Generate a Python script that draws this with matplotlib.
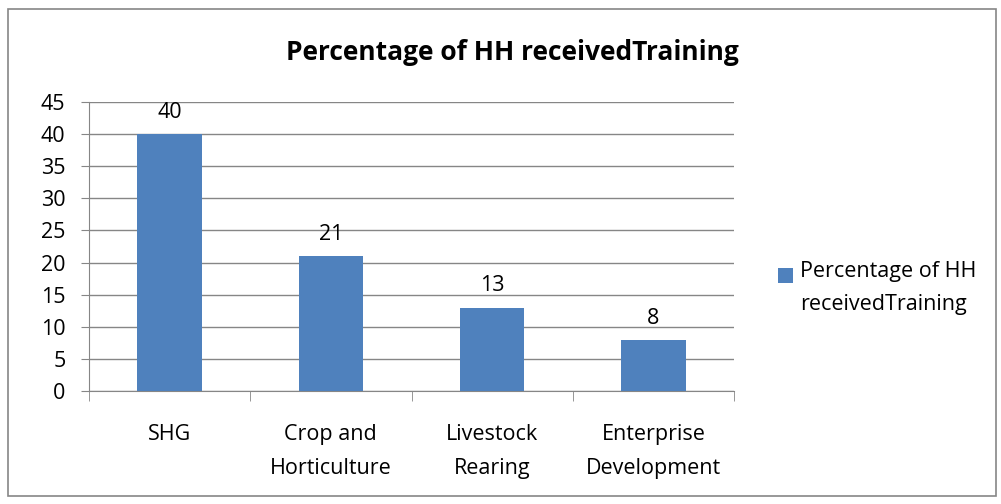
import matplotlib.pyplot as plt
from matplotlib.patches import Rectangle
from matplotlib.legend_handler import HandlerPatch

categories = ['SHG', 'Crop and\nHorticulture', 'Livestock\nRearing', 'Enterprise\nDevelopment']
values = [40, 21, 13, 8]
series_name = 'Percentage of HH\nreceivedTraining'
title = 'Percentage of HH receivedTraining'

plt.rcParams['font.family'] = ['Open Sans', 'DejaVu Sans']
fs = 15.5

fig = plt.figure(figsize=(10.01, 5.04), dpi=100)
ax = fig.add_axes([89 / 1001, 1 - 391 / 504, (734 - 89) / 1001, (391 - 102) / 504])

x = range(len(categories))
bars = ax.bar(x, values, width=0.4, color='#4F81BD', label=series_name, zorder=3)
for xi, v in zip(x, values):
    ax.annotate(str(v), (xi, v), xytext=(0, 8), textcoords='offset points',
                ha='center', va='bottom', fontsize=fs)

ax.set_xlim(-0.5, len(categories) - 0.5)
ax.set_ylim(0, 45)
ax.set_yticks(range(0, 46, 5))
ax.set_xticks(list(x))
ax.set_xticklabels(categories, fontsize=fs, linespacing=1.8)
ax.set_xticks([i - 0.5 for i in range(len(categories) + 1)], minor=True)
ax.tick_params(axis='x', which='major', length=0, pad=24)
ax.tick_params(axis='x', which='minor', length=7, color='#868686', direction='out')
ax.tick_params(axis='y', length=6, color='#868686', labelsize=fs, pad=11)
ax.yaxis.grid(True, color='#868686', linewidth=1, zorder=0)
for s in ['top', 'right']:
    ax.spines[s].set_visible(False)
for s in ['left', 'bottom']:
    ax.spines[s].set_color('#868686')

fig.text(512 / 1001, 1 - 52 / 504, title, ha='center', va='center',
         fontsize=19, fontweight='bold')


# legend square sits next to the first line of text, like Excel does
def top_square(legend, orig_handle, xdescent, ydescent, width, height, fontsize):
    return Rectangle((-xdescent, -ydescent + 9.5), width, height)


handle = bars.patches[0]
leg = fig.legend(handles=[handle], labels=[series_name], loc='center left',
                 bbox_to_anchor=(759 / 1001, 1 - 288 / 504), frameon=False,
                 fontsize=fs, handlelength=0.7, handleheight=0.7, handletextpad=0.3,
                 handler_map={handle: HandlerPatch(patch_func=top_square)})
for t in leg.get_texts():
    t.set_linespacing(1.75)

fig.patches.append(Rectangle((8 / 1001, 8 / 504), 988 / 1001, 487 / 504,
                             transform=fig.transFigure, fill=False,
                             edgecolor='#868686', linewidth=1.2))

fig.savefig('out.png', dpi=100)
